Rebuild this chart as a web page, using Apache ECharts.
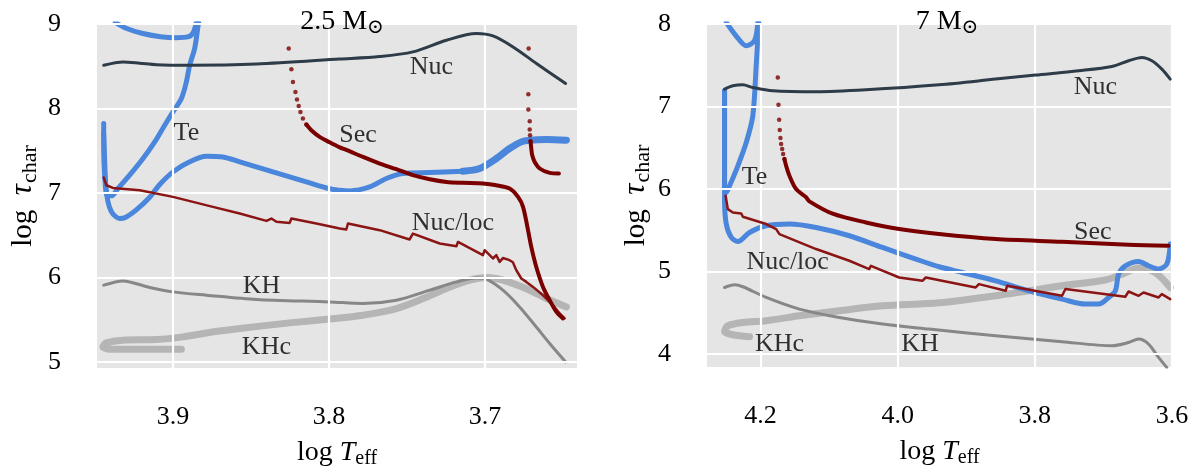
<!DOCTYPE html>
<html><head><meta charset="utf-8">
<script src="https://cdn.jsdelivr.net/npm/echarts@6/dist/echarts.min.js"></script>
<style>html,body{margin:0;padding:0;background:#fff}#c{width:1200px;height:470px}</style>
</head><body><div id="c"></div><script>
const FONT = '"Liberation Serif","DejaVu Serif",serif';

// ---------- tick values ----------
const xTicksL = [3.9, 3.8, 3.7];
const yTicksL = [5, 6, 7, 8, 9];
const xTicksR = [4.2, 4.0, 3.8, 3.6];
const yTicksR = [4, 5, 6, 7, 8];
const titles = ['2.5', '7'];

// ---------- 2.5 Msun panel: [log Teff, log tau] ----------
const nucL = [[3.9444,8.512],[3.932,8.551],[3.9213,8.536],[3.9106,8.518],[3.8893,8.512],[3.8465,8.526],[3.7931,8.585],[3.7675,8.615],[3.7462,8.67],[3.7247,8.808],[3.7055,8.888],[3.6949,8.859],[3.682,8.729],[3.667,8.533],[3.6483,8.296]];
const teL_a = [[3.937,9.02],[3.930,8.95],[3.920,8.89],[3.908,8.85],[3.898,8.838],[3.890,8.85],[3.887,8.90],[3.885,9.02]];
const teL_b = [[3.8835,9.02],[3.884,8.966],[3.8861,8.71],[3.8893,8.512],[3.8914,8.315],[3.8946,8.118],[3.9,7.96],[3.9053,7.802],[3.9117,7.605],[3.9192,7.408],[3.9278,7.211],[3.9353,7.053],[3.9395,6.966],[3.9423,6.974],[3.9438,7.211],[3.9444,7.527],[3.9444,7.822]];
const teL_c = [[3.9444,7.70],[3.9438,7.40],[3.9431,7.10],[3.9417,6.90],[3.9395,6.78],[3.9367,6.72],[3.9342,6.698],[3.9299,6.717],[3.9235,6.80],[3.9149,6.95],[3.9085,7.10],[3.9,7.25],[3.8893,7.37],[3.8786,7.436],[3.8679,7.427],[3.8572,7.368],[3.8359,7.25],[3.8145,7.131],[3.7996,7.05],[3.7931,7.033],[3.7867,7.025],[3.7739,7.072],[3.7632,7.172],[3.7526,7.231],[3.7354,7.243],[3.7141,7.258]];
const teL_d = [[3.7141,7.258],[3.7034,7.29],[3.6927,7.408],[3.6842,7.527],[3.6767,7.605],[3.6713,7.625],[3.6606,7.633],[3.6478,7.625]];
const secL_dots = [[3.8258,8.71],[3.8241,8.465],[3.8231,8.315],[3.8215,8.196],[3.8205,8.107],[3.8194,8.031],[3.8183,7.96],[3.8167,7.882],[3.8145,7.81],[3.672,8.71],[3.6722,8.169],[3.6722,7.988],[3.6713,7.85],[3.6713,7.751],[3.6711,7.684],[3.6708,7.613]];
const secL_a = [[3.8145,7.81],[3.8113,7.743],[3.806,7.664],[3.7996,7.6],[3.7931,7.54],[3.7889,7.51],[3.7782,7.427],[3.7675,7.349],[3.7568,7.282],[3.7462,7.211],[3.7354,7.163],[3.7247,7.131],[3.7141,7.12],[3.7013,7.112],[3.6927,7.092],[3.6842,7.053],[3.6788,6.954],[3.6756,6.836],[3.6724,6.56],[3.6703,6.362],[3.6671,6.125],[3.6628,5.889],[3.6585,5.731],[3.6542,5.593],[3.65,5.515]];
const secL_b = [[3.6708,7.613],[3.6703,7.527],[3.6697,7.447],[3.6681,7.368],[3.6649,7.29],[3.6585,7.238],[3.6526,7.231]];
const nuclocL = [[3.9444,7.183],[3.9427,7.092],[3.9385,7.06],[3.9213,7.033],[3.9,6.954],[3.8744,6.836],[3.8572,6.757],[3.8401,6.67],[3.8369,6.698],[3.8337,6.66],[3.8252,6.646],[3.8241,6.698],[3.8081,6.639],[3.7931,6.58],[3.7889,6.568],[3.7878,6.639],[3.7675,6.56],[3.7483,6.45],[3.7462,6.52],[3.729,6.402],[3.7183,6.37],[3.7173,6.421],[3.7013,6.264],[3.7002,6.323],[3.6949,6.225],[3.6927,6.264],[3.6906,6.185],[3.6885,6.23],[3.6842,6.205],[3.6821,6.18],[3.6799,6.086],[3.6767,5.988],[3.6735,5.948],[3.6692,5.889],[3.6628,5.79],[3.6564,5.672],[3.6521,5.574],[3.6489,5.515]];
const khL = [[3.9444,5.909],[3.9321,5.96],[3.9149,5.882],[3.9,5.83],[3.8786,5.791],[3.8465,5.74],[3.7996,5.711],[3.7782,5.692],[3.7568,5.731],[3.7354,5.85],[3.7183,5.948],[3.7055,5.995],[3.6991,5.98],[3.6885,5.85],[3.6778,5.652],[3.6671,5.415],[3.6585,5.219],[3.6483,5.001]];
const khcL = [[3.8946,5.151],[3.9213,5.151],[3.9406,5.151],[3.9449,5.179],[3.9427,5.226],[3.9321,5.258],[3.9106,5.266],[3.8936,5.297],[3.8786,5.344],[3.8572,5.396],[3.8252,5.463],[3.7931,5.52],[3.7782,5.554],[3.7568,5.633],[3.7397,5.751],[3.7247,5.87],[3.7098,5.968],[3.6991,6.0],[3.6885,5.968],[3.6713,5.85],[3.6606,5.751],[3.6478,5.652]];
const labelsL = [['Te',3.8914,7.704],['Sec',3.7814,7.684],['Nuc',3.7344,8.492],['Nuc/loc',3.7205,6.646],['KH',3.8433,5.897],['KHc',3.8401,5.179]];

// ---------- 7 Msun panel ----------
const nucR = [[4.2524,7.211],[4.2403,7.251],[4.2257,7.263],[4.2112,7.23],[4.1821,7.19],[4.119,7.178],[4.0463,7.202],[3.9396,7.263],[3.8572,7.332],[3.799,7.381],[3.736,7.433],[3.6876,7.485],[3.6633,7.554],[3.6439,7.594],[3.6294,7.554],[3.6148,7.453],[3.6026,7.332]];
const teR_a = [[4.2499,8.02],[4.235,7.85],[4.2208,7.736],[4.2087,7.80],[4.2039,8.02]];
const teR_b = [[4.2025,8.02],[4.2063,7.493],[4.2112,6.887],[4.2208,6.564],[4.233,6.281],[4.2451,6.039],[4.2499,5.958],[4.2524,5.999],[4.2524,6.5],[4.2524,7.19]];
const teR_c = [[4.2524,7.19],[4.2524,6.099],[4.2524,5.857],[4.2499,5.575],[4.2426,5.412],[4.233,5.364],[4.216,5.473],[4.1917,5.554],[4.1578,5.575],[4.119,5.533],[4.0705,5.433],[4.0221,5.291],[3.9735,5.15],[3.9396,5.057],[3.9057,4.988],[3.8572,4.887],[3.8087,4.766],[3.7603,4.665],[3.7263,4.605],[3.7069,4.605],[3.6924,4.685],[3.6826,4.766],[3.6778,4.968],[3.6681,5.069],[3.6487,5.121],[3.6342,5.069],[3.6196,5.029],[3.6076,5.09],[3.6026,5.332]];
const secR_dots = [[4.1748,7.352],[4.1738,7.021],[4.1728,6.839],[4.1719,6.714],[4.1709,6.617],[4.1699,6.544],[4.1684,6.484],[4.167,6.423],[4.1651,6.362]];
const secR = [[4.1651,6.362],[4.1626,6.281],[4.1578,6.16],[4.1481,5.999],[4.1335,5.9],[4.1287,5.85],[4.0948,5.70],[4.0463,5.594],[3.9978,5.514],[3.9396,5.453],[3.8572,5.393],[3.7603,5.36],[3.6633,5.324],[3.6051,5.312]];
const nuclocR = [[4.2509,5.918],[4.2476,5.756],[4.2403,5.715],[4.2281,5.703],[4.2257,5.663],[4.1917,5.575],[4.1772,5.514],[4.1724,5.453],[4.119,5.272],[4.0705,5.13],[4.0415,5.029],[4.039,5.069],[3.9978,4.927],[3.9639,4.887],[3.959,4.927],[3.8863,4.806],[3.8815,4.847],[3.8426,4.766],[3.8403,4.827],[3.7603,4.705],[3.7554,4.787],[3.6681,4.694],[3.6633,4.757],[3.6487,4.705],[3.6415,4.745],[3.6196,4.685],[3.6148,4.726],[3.6026,4.665]];
const khR = [[4.2524,4.806],[4.2378,4.839],[4.2257,4.815],[4.1917,4.685],[4.1433,4.544],[4.0851,4.442],[4.0221,4.362],[3.9542,4.302],[3.8572,4.221],[3.7603,4.148],[3.6876,4.1],[3.6633,4.139],[3.6487,4.18],[3.6342,4.12],[3.6196,3.958],[3.6076,3.836]];
const khcR = [[4.216,4.208],[4.2403,4.233],[4.2524,4.273],[4.2476,4.342],[4.2257,4.382],[4.1917,4.403],[4.1433,4.463],[4.0851,4.524],[4.0221,4.584],[3.9396,4.62],[3.8572,4.705],[3.8087,4.766],[3.7603,4.827],[3.6972,4.896],[3.673,4.968],[3.6487,5.041],[3.6245,4.988],[3.6026,4.806]];
const labelsR = [['Te',4.2087,6.139],['Nuc',3.7117,7.23],['Sec',3.7156,5.473],['Nuc/loc',4.1603,5.109],['KHc',4.1724,4.12],['KH',3.9673,4.12]];

// ---------- styling ----------
const C = {te:'#4a86dc', nuc:'#2e3b48', sec:'#7a0000', nucloc:'#8b1515', kh:'#878787', khc:'#b5b5b5', bg:'#e5e5e5', text:'#000000'};
const FS = 26;

function lineS(gi, data, color, width, z, smooth){
  return {type:'line', xAxisIndex:gi, yAxisIndex:gi, data:data, symbol:'none', showSymbol:false, smooth:smooth||false,
    lineStyle:{color:color, width:width, cap:'round', join:'round'}, z:z, silent:true, animation:false, clip:true};
}
function dotS(gi, data, color, size, z){
  return {type:'scatter', xAxisIndex:gi, yAxisIndex:gi, data:data, symbol:'circle', symbolSize:size,
    itemStyle:{color:color}, z:z, silent:true, animation:false};
}
function gridLines(gi, xs, ys){
  return {type:'line', xAxisIndex:gi, yAxisIndex:gi, data:[], z:1, silent:true, animation:false,
    markLine:{silent:true, symbol:'none', label:{show:false}, animation:false,
      lineStyle:{color:'#ffffff', width:2.2, type:'solid'},
      data: xs.map(v=>({xAxis:v})).concat(ys.map(v=>({yAxis:v})))}};
}
function labelS(gi, labels){
  return {type:'scatter', xAxisIndex:gi, yAxisIndex:gi, symbolSize:1, itemStyle:{color:'transparent'}, z:10, silent:true, animation:false,
    label:{show:true, position:'inside', formatter:p=>p.name, color:C.text, fontSize:FS, fontFamily:FONT},
    data: labels.map(l=>({name:l[0], value:[l[1], l[2]]}))};
}
const richX = {
  a:{fontSize:28, fontFamily:FONT, color:C.text},
  i:{fontSize:28, fontFamily:FONT, fontStyle:'italic', color:C.text},
  s:{fontSize:20, fontFamily:FONT, color:C.text, padding:[13,0,0,0]}
};
const richY = {
  a:{fontSize:29, fontFamily:FONT, color:C.text},
  i:{fontSize:31, fontFamily:FONT, fontStyle:'italic', color:C.text},
  s:{fontSize:22, fontFamily:FONT, color:C.text, padding:[14,0,0,1]}
};
function xAx(gi, min, max, ticks){
  return {type:'value', gridIndex:gi, min:min, max:max, inverse:true,
    axisLine:{show:false}, axisTick:{show:false}, splitLine:{show:false},
    axisLabel:{customValues:ticks, formatter:v=>v.toFixed(1), fontSize:FS, fontFamily:FONT, color:C.text, margin:36},
    name:'{a|log }{i|T}{s|eff}', nameLocation:'middle', nameGap:68, nameTextStyle:{rich:richX}};
}
function yAx(gi, min, max, ticks, gap){
  return {type:'value', gridIndex:gi, min:min, max:max,
    axisLine:{show:false}, axisTick:{show:false}, splitLine:{show:false},
    axisLabel:{customValues:ticks, formatter:v=>String(v), fontSize:FS, fontFamily:FONT, color:C.text, margin:36},
    name:'{a|log  }{i|τ}{s|char}', nameLocation:'middle', nameRotate:90, nameGap:gap, nameTextStyle:{rich:richY}};
}
const titleRich = {s:{fontSize:20, fontFamily:FONT, color:C.text, padding:[13,0,0,0]}};

const chart = echarts.init(document.getElementById('c'), null, {renderer:'canvas'});
chart.setOption({
  animation:false,
  backgroundColor:'#ffffff',
  title:[
    {text:titles[0]+' M{s|⊙}', left:337, top:0, textAlign:'center', textStyle:{fontSize:28, fontFamily:FONT, fontWeight:'normal', color:C.text, rich:titleRich}},
    {text:titles[1]+' M{s|⊙}', left:942, top:0, textAlign:'center', textStyle:{fontSize:28, fontFamily:FONT, fontWeight:'normal', color:C.text, rich:titleRich}}
  ],
  grid:[
    {left:97, top:24, width:480, height:344, show:true, backgroundColor:C.bg, borderWidth:0, containLabel:false, outerBoundsMode:'none'},
    {left:707, top:24, width:465, height:343, show:true, backgroundColor:C.bg, borderWidth:0, containLabel:false, outerBoundsMode:'none'}
  ],
  xAxis:[xAx(0, 3.641, 3.9487, xTicksL), xAx(1, 3.6, 4.278, xTicksR)],
  yAxis:[yAx(0, 4.929, 9, yTicksL, 56), yAx(1, 3.842, 8, yTicksR, 48)],
  series:[
    gridLines(0, xTicksL, yTicksL),
    gridLines(1, xTicksR, yTicksR),
    lineS(0, khcL, C.khc, 7, 2, 0.3),
    lineS(0, khL, C.kh, 3, 3, 0.3),
    lineS(0, teL_a, C.te, 5, 4, 0.3),
    lineS(0, teL_b, C.te, 5, 4, 0.3),
    lineS(0, teL_c, C.te, 5, 4, 0.3),
    lineS(0, teL_d, C.te, 7, 4, 0.3),
    lineS(0, nucL, C.nuc, 3, 5, 0.3),
    lineS(0, nuclocL, C.nucloc, 2.5, 5),
    lineS(0, secL_a, C.sec, 4, 6, 0.3),
    lineS(0, secL_b, C.sec, 4, 6, 0.3),
    dotS(0, secL_dots, C.sec, 4.5, 6),
    labelS(0, labelsL),
    lineS(1, khcR, C.khc, 7, 2, 0.3),
    lineS(1, khR, C.kh, 3, 3, 0.3),
    lineS(1, teR_a, C.te, 5, 4, 0.3),
    lineS(1, teR_b, C.te, 5, 4, 0.3),
    lineS(1, teR_c, C.te, 5, 4, 0.3),
    lineS(1, nucR, C.nuc, 3, 5, 0.3),
    lineS(1, nuclocR, C.nucloc, 2.5, 5),
    lineS(1, secR, C.sec, 4, 6, 0.3),
    dotS(1, secR_dots, C.sec, 4.5, 6),
    labelS(1, labelsR)
  ]
});
</script></body></html>
